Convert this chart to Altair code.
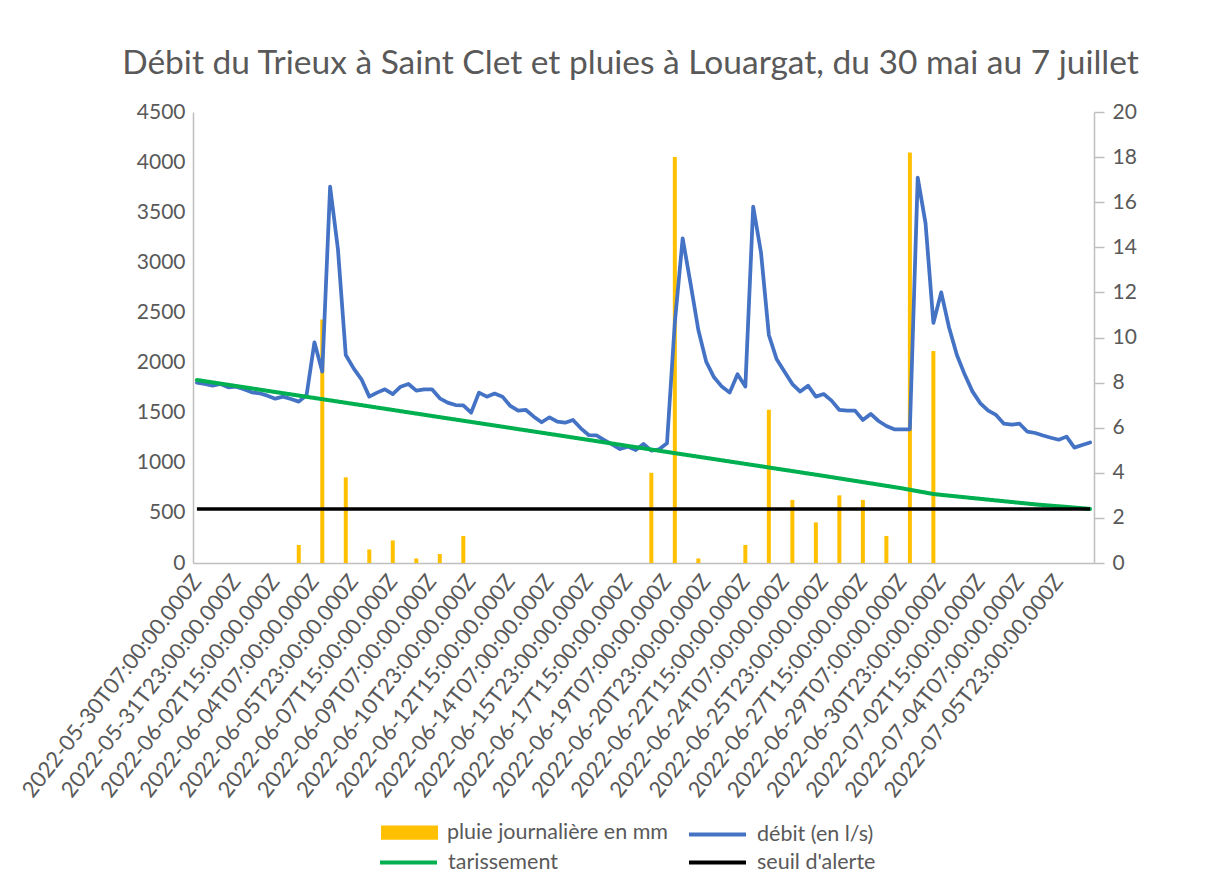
import altair as alt
import pandas as pd

FONT = "Lato"
GREY = "#595959"
AXC = "#BFBFBF"

# 8-hourly categories, 30 May 07:00 -> 7 July 07:00
categories = [t.strftime("%Y-%m-%dT%H:%M:%S.000Z")
              for t in pd.date_range("2022-05-30 07:00", periods=115, freq="8h")]
tick_labels = categories[::5]

debit = [1799, 1786, 1769, 1786, 1753, 1760, 1733, 1703, 1693, 1670,
         1640, 1660, 1636, 1610, 1676, 2202, 1909, 3755, 3130, 2075,
         1942, 1833, 1660, 1700, 1733, 1686, 1759, 1786, 1720, 1733,
         1733, 1643, 1600, 1576, 1573, 1500, 1700, 1660, 1690, 1660,
         1567, 1520, 1527, 1460, 1404, 1454, 1410, 1400, 1427, 1344,
         1277, 1274, 1227, 1184, 1137, 1161, 1127, 1187, 1121, 1134,
         1194, 2400, 3240, 2790, 2325, 2009, 1853, 1760, 1700, 1883,
         1760, 3556, 3096, 2275, 2032, 1909, 1785, 1710, 1769, 1660,
         1686, 1620, 1527, 1520, 1520, 1427, 1487, 1417, 1367, 1334,
         1334, 1334, 3845, 3389, 2395, 2700, 2350, 2075, 1880, 1710,
         1593, 1520, 1477, 1390, 1380, 1390, 1310, 1297, 1272, 1250,
         1230, 1261, 1151, 1177, 1203]

pluie_dates = ["2022-06-03T15:00:00.000Z", "2022-06-04T15:00:00.000Z", "2022-06-05T15:00:00.000Z",
               "2022-06-06T15:00:00.000Z", "2022-06-07T15:00:00.000Z", "2022-06-08T15:00:00.000Z",
               "2022-06-09T15:00:00.000Z", "2022-06-10T15:00:00.000Z", "2022-06-18T15:00:00.000Z",
               "2022-06-19T15:00:00.000Z", "2022-06-20T15:00:00.000Z", "2022-06-22T15:00:00.000Z",
               "2022-06-23T15:00:00.000Z", "2022-06-24T15:00:00.000Z", "2022-06-25T15:00:00.000Z",
               "2022-06-26T15:00:00.000Z", "2022-06-27T15:00:00.000Z", "2022-06-28T15:00:00.000Z",
               "2022-06-29T15:00:00.000Z", "2022-06-30T15:00:00.000Z"]
pluie_mm = [0.8, 10.8, 3.8, 0.6, 1.0, 0.2, 0.4, 1.2, 4.0, 18.0,
            0.2, 0.8, 6.8, 2.8, 1.8, 3.0, 2.8, 1.2, 18.2, 9.4]

tar_dates = ["2022-05-30T07:00:00.000Z", "2022-06-02T15:00:00.000Z", "2022-06-05T23:00:00.000Z",
             "2022-06-09T07:00:00.000Z", "2022-06-12T15:00:00.000Z", "2022-06-15T23:00:00.000Z",
             "2022-06-19T07:00:00.000Z", "2022-06-22T15:00:00.000Z", "2022-06-25T23:00:00.000Z",
             "2022-06-29T07:00:00.000Z", "2022-06-30T15:00:00.000Z", "2022-07-02T15:00:00.000Z",
             "2022-07-04T23:00:00.000Z", "2022-07-07T07:00:00.000Z"]
tar_values = [1826, 1706, 1587, 1467, 1348, 1228, 1108, 989, 869, 745, 688, 640, 585, 540]

seuil_dates = ["2022-05-30T07:00:00.000Z", "2022-07-07T07:00:00.000Z"]
seuil_values = [540, 540]

S_PLUIE = "pluie journalière en mm"
S_DEBIT = "débit (en l/s)"
S_TAR = "tarissement"
S_SEUIL = "seuil d'alerte"

df_pluie = pd.DataFrame({"t": pluie_dates, "mm": pluie_mm, "s_pluie": S_PLUIE})
df_debit = pd.DataFrame({"t": categories, "v": debit, "s_debit": S_DEBIT})
df_tar = pd.DataFrame({"t": tar_dates, "v": tar_values, "s_tar": S_TAR})
df_seuil = pd.DataFrame({"t": seuil_dates, "v": seuil_values, "s_seuil": S_SEUIL})

xenc = alt.X(
    "t:N", sort=categories, title=None,
    scale=alt.Scale(domain=categories, paddingInner=0, paddingOuter=0),
    axis=alt.Axis(values=tick_labels, labelAngle=-52, labelAlign="right", labelBaseline="middle",
                  ticks=False, domainColor=AXC, domainWidth=1.5, labelFont=FONT, labelFontSize=22,
                  labelColor=GREY, labelPadding=14, labelOverlap=False, labelBound=False,
                  labelFlush=False, labelLimit=1000, grid=False),
)

yleft = alt.Y(
    "v:Q", title=None,
    scale=alt.Scale(domain=[0, 4500], nice=False),
    axis=alt.Axis(values=list(range(0, 4501, 500)), format="d", orient="left", ticks=False,
                  grid=False, domainColor=AXC, domainWidth=1.5, labelFont=FONT, labelFontSize=21,
                  labelColor=GREY, labelPadding=8),
)

yright = alt.Y(
    "mm:Q", title=None,
    scale=alt.Scale(domain=[0, 20], nice=False),
    axis=alt.Axis(values=list(range(0, 21, 2)), format="d", orient="right", ticks=True, tickSize=10,
                  tickColor=AXC, tickWidth=1.5, grid=False, domainColor=AXC, domainWidth=1.5,
                  labelFont=FONT, labelFontSize=21, labelColor=GREY, labelPadding=8),
)

leg_common = dict(orient="none", title=None, labelFont=FONT, labelFontSize=21.5,
                  labelColor=GREY, labelOffset=9, labelLimit=1000, symbolSize=3249)

bars = alt.Chart(df_pluie).mark_bar(size=4).encode(
    x=xenc, y=yright,
    color=alt.Color("s_pluie:N", scale=alt.Scale(domain=[S_PLUIE], range=["#FFC000"]),
                    legend=alt.Legend(legendX=188, legendY=692,
                                      symbolType="M-1,-0.25H1V0.25H-1Z", symbolStrokeWidth=0,
                                      **leg_common)),
)

line_debit = alt.Chart(df_debit).mark_line(strokeWidth=3.75, strokeJoin="round", strokeCap="round").encode(
    x=xenc, y=yleft,
    stroke=alt.Stroke("s_debit:N", scale=alt.Scale(domain=[S_DEBIT], range=["#4472C4"]),
                      legend=alt.Legend(legendX=494, legendY=692, symbolType="stroke",
                                        symbolStrokeWidth=4, **leg_common)),
)

line_tar = alt.Chart(df_tar).mark_line(strokeWidth=4, color="#00B050", strokeCap="round").encode(
    x=xenc, y=yleft,
    strokeDash=alt.StrokeDash("s_tar:N", scale=alt.Scale(domain=[S_TAR], range=[[1, 0]]),
                              legend=alt.Legend(legendX=185, legendY=720, symbolType="stroke",
                                                symbolStrokeWidth=4, symbolStrokeColor="#00B050",
                                                **leg_common)),
)

line_seuil = alt.Chart(df_seuil).mark_line(color="black", strokeWidth=3.5).encode(
    x=xenc, y=yleft,
    opacity=alt.Opacity("s_seuil:N", scale=alt.Scale(domain=[S_SEUIL], range=[1]),
                        legend=alt.Legend(legendX=494, legendY=720, symbolType="stroke",
                                          symbolStrokeWidth=4, symbolStrokeColor="black",
                                          **leg_common)),
)

lines = alt.layer(line_debit, line_tar, line_seuil)

chart = alt.layer(bars, lines).resolve_scale(y="independent").properties(
    width=901, height=451,
    autosize=alt.AutoSizeParams(type="none"),
    padding={"left": 185, "top": 104, "right": 110, "bottom": 310},
    title=alt.Title("Débit du Trieux à Saint Clet et pluies à Louargat, du 30 mai au 7 juillet",
                    font=FONT, fontSize=33.5, fontWeight="normal", color=GREY,
                    anchor="middle", frame="group", offset=20, dx=-13),
).configure_view(stroke=None)

chart.save("out.html", embed_options={"renderer": "svg", "actions": False})
